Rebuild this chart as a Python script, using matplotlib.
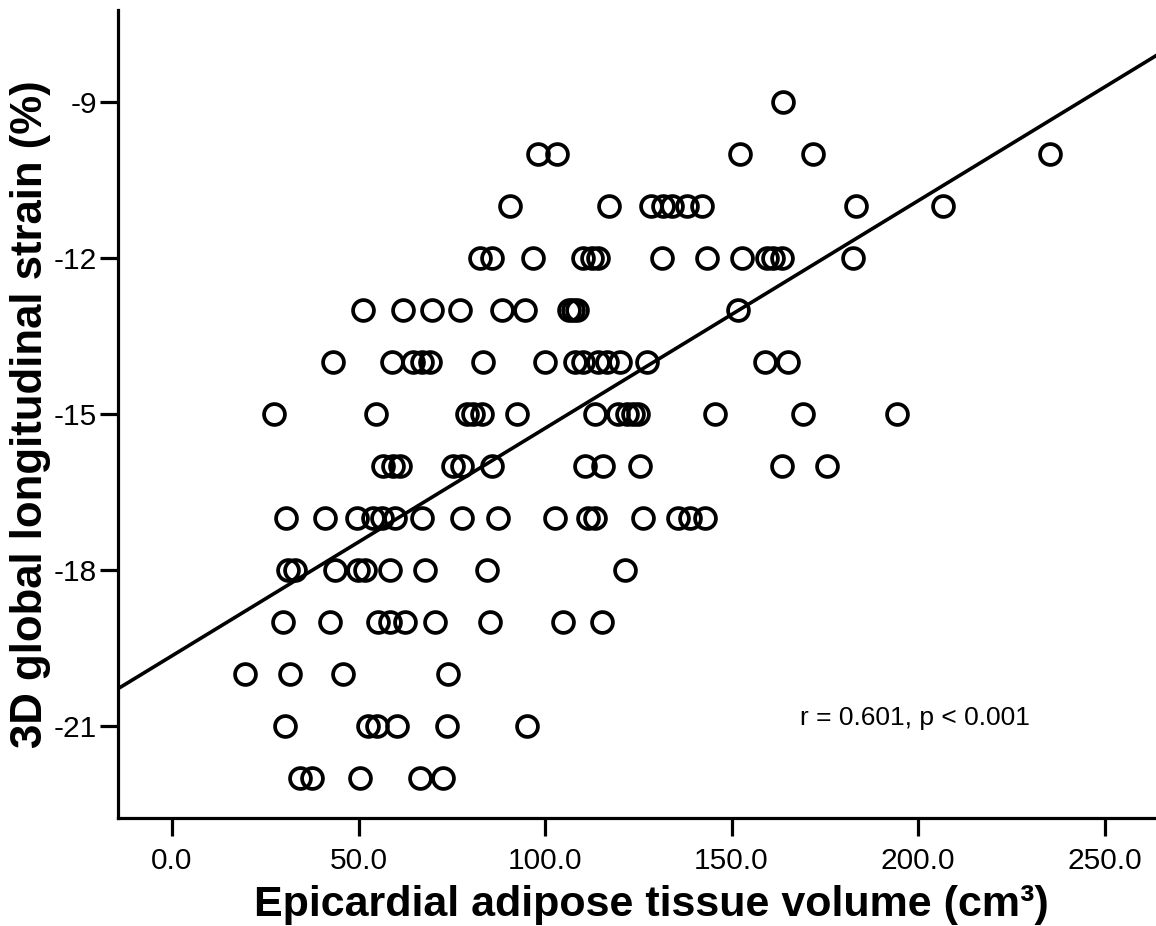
import numpy as np
import matplotlib
matplotlib.use("Agg")
import matplotlib.pyplot as plt

plt.rcParams['font.family'] = ['Liberation Sans', 'DejaVu Sans']

# epicardial adipose tissue volume (cm3)
eat_volume = [
    163.8,
    98.1, 103.2, 152.3, 171.8, 235.4,
    90.6, 117.2, 128.5, 131.5, 134.0, 138.0, 142.0, 183.4, 206.7,
    82.6, 85.8, 96.8, 110.2, 112.6, 114.2, 131.4, 143.4, 152.8, 159.5, 161.1, 163.5, 182.6,
    51.2, 61.9, 69.7, 77.2, 88.5, 94.6, 106.5, 107.5, 108.5, 151.7,
    43.2, 59.0, 64.6, 67.0, 69.2, 83.4, 100.0, 108.0, 110.2, 114.2, 116.6, 120.1, 127.3, 159.0, 165.1,
    27.3, 54.7, 79.0, 80.7, 83.1, 92.5, 113.4, 119.6, 122.0, 123.6, 125.0, 145.6, 169.2, 194.4,
    56.6, 59.2, 61.1, 75.3, 77.7, 85.8, 110.7, 115.5, 125.5, 163.5, 175.6,
    30.6, 41.0, 49.6, 53.9, 56.3, 59.8, 67.0, 77.7, 87.4, 102.7, 111.5, 113.4, 126.3, 135.7, 138.9, 142.9,
    31.1, 33.0, 43.7, 49.9, 51.7, 58.4, 67.8, 84.5, 121.4,
    29.8, 42.4, 55.2, 58.4, 62.5, 70.5, 85.3, 104.8, 115.3,
    19.6, 31.6, 45.8, 74.0,
    30.3, 52.5, 55.0, 60.3, 73.7, 95.2,
    34.3, 37.5, 50.4, 66.5, 72.7,
]
# 3D global longitudinal strain (%)
gls = (
    [-9] * 1 + [-10] * 5 + [-11] * 9 + [-12] * 13 + [-13] * 10 + [-14] * 15
    + [-15] * 14 + [-16] * 11 + [-17] * 16 + [-18] * 9 + [-19] * 9
    + [-20] * 4 + [-21] * 6 + [-22] * 5
)

fit_intercept = -19.65
fit_slope = 0.04375

x_ticks = [0, 50, 100, 150, 200, 250]
y_ticks = [-9, -12, -15, -18, -21]

fig = plt.figure(figsize=(11.56, 9.26), dpi=100)
ax = fig.add_axes([0.102, 0.1166, 0.898, 0.8726])

ax.plot(eat_volume, gls, 'o', ms=15, mfc='none', mec='black', mew=2.7, zorder=3)

xlim = (-14.5, 263.8)
xx = np.array(xlim)
ax.plot(xx, fit_intercept + fit_slope * xx, color='black', lw=2.6, zorder=2)

ax.set_xlim(*xlim)
ax.set_ylim(-22.77, -7.23)

ax.set_xticks(x_ticks)
ax.set_xticklabels([f"{v:.1f}" for v in x_ticks])
ax.set_yticks(y_ticks)
ax.set_yticklabels([str(v) for v in y_ticks])

for side in ['top', 'right']:
    ax.spines[side].set_visible(False)
for side in ['left', 'bottom']:
    ax.spines[side].set_linewidth(2.3)

ax.tick_params(axis='both', direction='out', length=13, width=2.3, labelsize=21.5)
ax.tick_params(axis='x', pad=8)
ax.tick_params(axis='y', pad=2)

ax.set_xlabel("Epicardial adipose tissue volume (cm\u00b3)", fontsize=31, fontweight='bold')
ax.xaxis.label.set_va('baseline')
ax.xaxis.set_label_coords(0.514, -0.1215)
ax.set_ylabel("3D global longitudinal strain (%)", fontsize=31.5, fontweight='bold', labelpad=2)

ax.text(0.657, 0.124, "r = 0.601, p < 0.001", transform=ax.transAxes,
        fontsize=19, ha='left', va='center')

fig.savefig("out.png", dpi=100)
